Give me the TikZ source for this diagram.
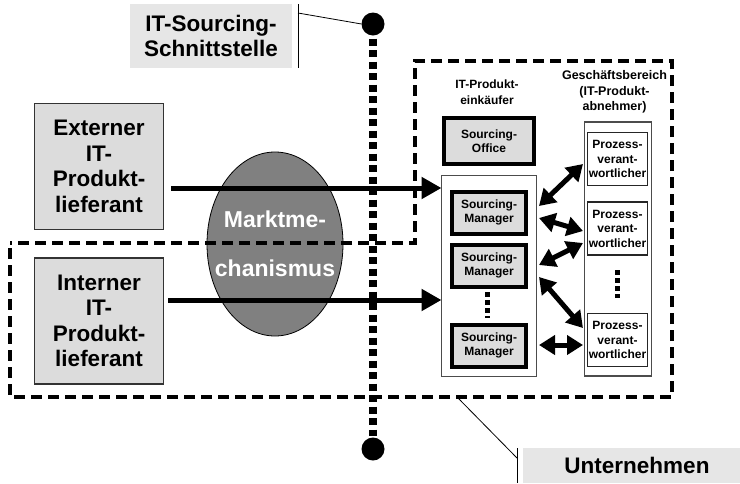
\documentclass[tikz,border=0pt]{standalone}
\usepackage{fontspec}
\setmainfont{Liberation Sans}
\usetikzlibrary{arrows.meta,shapes.geometric,calc}
\definecolor{boxgrey}{HTML}{DCDCDC}
\definecolor{lblgrey}{HTML}{E6E6E6}
\definecolor{ellgrey}{HTML}{808080}
\begin{document}
\begin{tikzpicture}[x=1pt,y=-1pt,outer sep=0pt,
  bigtxt/.style={font=\fontsize{22.5}{25.5}\selectfont\bfseries,align=center},
  smalltxt/.style={font=\fontsize{12}{14.5}\selectfont\bfseries,align=center},
  supplier/.style={draw=black!80,line width=1.2pt,fill=boxgrey,minimum width=129pt,minimum height=126pt,inner sep=0pt,bigtxt},
  managerbox/.style={draw=black,line width=4pt,fill=boxgrey,minimum width=74pt,minimum height=42pt,inner sep=0pt,smalltxt},
  ownerbox/.style={draw=black!85,line width=1.2pt,fill=white,minimum width=60pt,minimum height=53pt,inner sep=0pt,smalltxt},
  container/.style={draw=black!70,line width=1.2pt,fill=white,inner sep=0pt},
  lblbox/.style={fill=lblgrey,inner sep=0pt,bigtxt},
  boundary/.style={line width=3.5pt,dash pattern=on 11pt off 6pt},
  mainarrow/.style={line width=5pt,-{Triangle[length=20pt,width=21pt]}},
  duoarrow/.style={line width=5pt,{Triangle[length=16pt,width=19pt]}-{Triangle[length=16pt,width=19pt]}},
  sqdots/.style={line width=7.5pt,dash pattern=on 7pt off 4.5pt},
  smalldots/.style={line width=5pt,dash pattern=on 5pt off 3pt},
  leader/.style={draw=black,line width=0.8pt},
  bigdot/.style={circle,fill=black,inner sep=0pt,minimum size=23pt}
]
\useasboundingbox (0,0) rectangle (740,483);

% label boxes
\node[lblbox,minimum width=162pt,minimum height=64pt] (lblsrc) at (211,36) {IT-Sourcing-\\Schnittstelle};
\node[lblbox,minimum width=217pt,minimum height=35pt,text width=217pt] (lblunt) at (631.5,465.5) {\hspace*{11pt}Unternehmen};

% supplier boxes
\node[supplier] (ext) at (99,166.5) {Externer\\IT-\\Produkt-\\lieferant};
\node[supplier] (int) at (99,321) {Interner\\IT-\\Produkt-\\lieferant};

% market ellipse
\node[ellipse,draw=black,line width=0.8pt,fill=ellgrey,minimum width=136pt,minimum height=184pt,inner sep=0pt] (mkt) at (275,244) {};

% boundary dashed line
\draw[boundary] (10,248) -- (10,397) -- (672,397) -- (672,61) -- (415,61) -- (415,243) -- (10,243);

% market text
\node[font=\fontsize{23}{49}\selectfont\bfseries,text=white,align=center] (mkttxt) at (mkt.center) {Marktme-\\chanismus};

% right side containers
\node[container,minimum width=95pt,minimum height=201pt] (buy) at (489,276) {};
\node[container,minimum width=67pt,minimum height=254pt] (biz) at (618,249) {};

\node[smalltxt,font=\fontsize{12}{16}\selectfont\bfseries] (buyhead) at (487,92) {IT-Produkt-\\einkäufer};
\node[smalltxt,font=\fontsize{12.5}{15.5}\selectfont\bfseries] (bizhead) at (614.5,92) {Geschäftsbereich\\(IT-Produkt-\\abnehmer)};

\node[managerbox,minimum width=90pt,minimum height=46pt] (office) at (489,141) {Sourcing-\\Office};
\node[managerbox] (sm1) at (489,212.5) {Sourcing-\\Manager};
\node[managerbox] (sm2) at (489,265.5) {Sourcing-\\Manager};
\node[managerbox] (sm3) at (489,345.5) {Sourcing-\\Manager};

\node[ownerbox] (pv1) at (617.5,159) {Prozess-\\verant-\\wortlicher};
\node[ownerbox] (pv2) at (617.5,228.5) {Prozess-\\verant-\\wortlicher};
\node[ownerbox] (pv3) at (617.5,340) {Prozess-\\verant-\\wortlicher};

\coordinate (d1a) at (487,292);
\coordinate (d1b) at (487,318);
\draw[smalldots] (d1a) -- (d1b);
\coordinate (d2a) at (617,270);
\coordinate (d2b) at (617,298);
\draw[smalldots] (d2a) -- (d2b);

% main arrows
\coordinate (a1s) at (171,188);
\draw[mainarrow] (a1s) -- (a1s -| buy.west);
\coordinate (a2s) at (168,300);
\draw[mainarrow] (a2s) -- (a2s -| buy.west);

% double arrows
\draw[duoarrow] ($(sm1.east)+(13,-6.5)$) -- ($(pv1.west)+(-4.5,5)$);
\draw[duoarrow] ($(sm1.east)+(13,5.5)$) -- ($(pv2.west)+(-4.5,2.5)$);
\draw[duoarrow] ($(sm2.east)+(13,-0.5)$) -- ($(pv2.west)+(-4.5,14.5)$);
\draw[duoarrow] ($(sm2.east)+(13,11.5)$) -- ($(pv3.west)+(-4.5,-12)$);
\draw[duoarrow] ($(sm3.east)+(13,-0.5)$) -- ($(pv3.west)+(-4.5,5)$);

% interface line
\node[bigdot] (topdot) at (373,24) {};
\node[bigdot] (botdot) at (373,449) {};
\draw[sqdots] ($(topdot.south)+(0,3)$) -- ($(botdot.north)+(0,-2)$);

% leaders
\coordinate (l1a) at (298,4);
\coordinate (l1b) at (298,68);
\draw[leader] (l1a) -- (l1b);
\coordinate (l1c) at (298,13);
\draw[leader] (l1c) -- (topdot.west);
\coordinate (l2a) at (517,448);
\coordinate (l2b) at (517,483);
\draw[leader] (l2a) -- (l2b);
\coordinate (l2c) at (458,398);
\coordinate (l2d) at (517,458);
\draw[leader] (l2c) -- (l2d);
\end{tikzpicture}
\end{document}
